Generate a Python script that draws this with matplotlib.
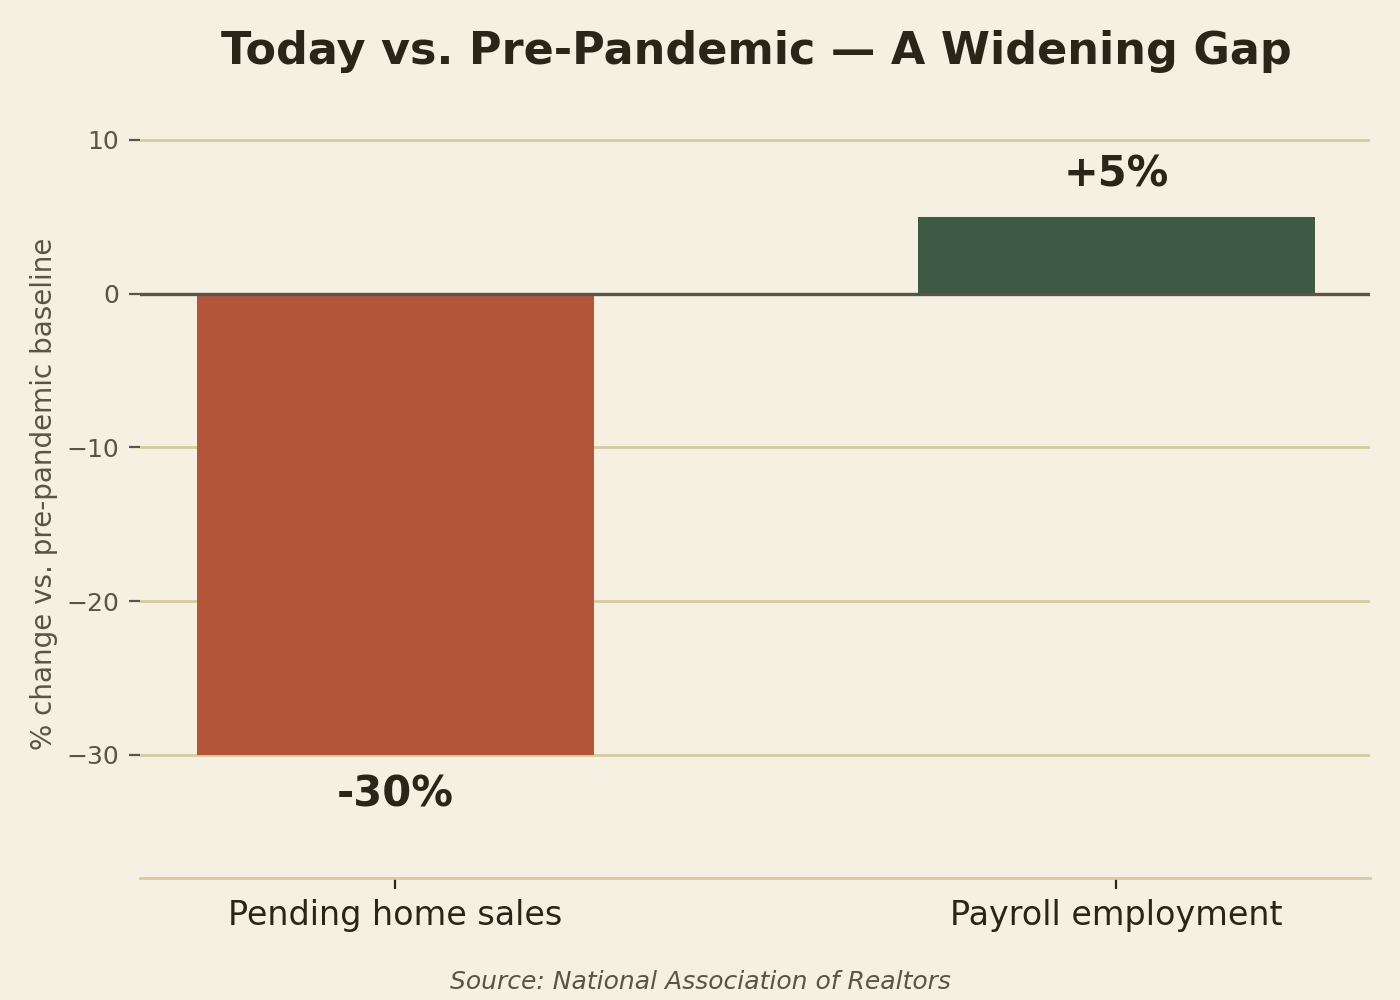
import matplotlib
matplotlib.use("Agg")
import matplotlib.pyplot as plt

# datos
categorias = ["Pending home sales", "Payroll employment"]
valores = [-30, 5]
etiquetas = ["-30%", "+5%"]
colores = ["#b35538", "#3e5a45"]

fondo = "#f6f0e3"
texto = "#2a2519"
gris = "#5a5448"

fig = plt.figure(figsize=(7, 5), dpi=200, facecolor=fondo)
ax = fig.add_axes([0.1, 0.122, 0.8786, 0.769])
ax.set_facecolor(fondo)

x = list(range(len(categorias)))
ax.bar(x, valores, width=0.55, color=colores, zorder=3)

ax.set_xlim(-0.354, 1.352)
ax.set_ylim(-38, 12)
ax.set_yticks([10, 0, -10, -20, -30])
ax.yaxis.grid(True, color="#d6cba0", linewidth=1.0, zorder=0)
ax.axhline(0, color=gris, linewidth=1.2, zorder=4)

for s in ["top", "right", "left"]:
    ax.spines[s].set_visible(False)
ax.spines["bottom"].set_color("#d6cba0")
ax.spines["bottom"].set_linewidth(1.0)

ax.set_xticks(x)
ax.set_xticklabels(categorias, fontsize=12, color=texto)
ax.tick_params(axis="x", color=texto, length=4, width=0.8)
ax.tick_params(axis="y", colors=gris, labelsize=9, length=4, width=0.8)
ax.set_ylabel("% change vs. pre-pandemic baseline", fontsize=10, color=gris,
              labelpad=3)

# etiquetas de valor
for xi, v, et in zip(x, valores, etiquetas):
    if v < 0:
        ax.text(xi, v - 1.2, et, ha="center", va="top", fontsize=15,
                fontweight="bold", color=texto)
    else:
        ax.text(xi, v + 1.4, et, ha="center", va="bottom", fontsize=15,
                fontweight="bold", color=texto)

fig.suptitle("Today vs. Pre-Pandemic — A Widening Gap", fontsize=16,
             fontweight="bold", color=texto, x=0.54, y=0.97)
fig.text(0.5, 0.011, "Source: National Association of Realtors",
         ha="center", fontsize=9, style="italic", color=gris)

fig.savefig("out.png", facecolor=fondo)
